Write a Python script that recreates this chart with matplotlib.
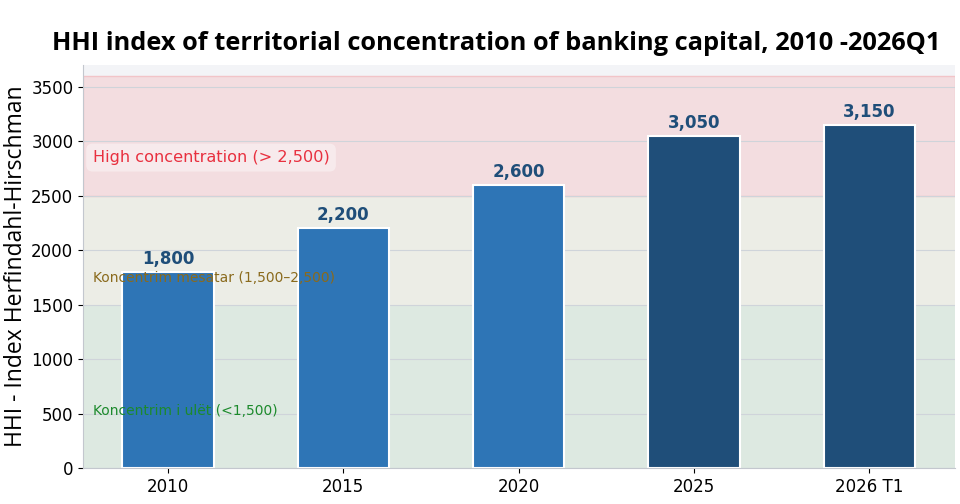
import matplotlib.pyplot as plt
import numpy as np

# data
periods = ["2010", "2015", "2020", "2025", "2026 T1"]
hhi = [1800, 2200, 2600, 3050, 3150]
value_labels = ["1,800", "2,200", "2,600", "3,050", "3,150"]
bar_colors = ["#2E75B6", "#2E75B6", "#2E75B6", "#1F4E79", "#1F4E79"]

fig = plt.figure(figsize=(9.6, 5.04), dpi=100)
ax = fig.add_axes([0.0865, 0.0714, 0.9085, 0.7996])
ax.set_facecolor("#f3f4f7")

# concentration bands
ax.axhspan(0, 1500, color="#dde9e1", zorder=0, lw=0)
ax.axhspan(1500, 2500, color="#ecede6", zorder=0, lw=0)
ax.axhspan(2500, 3600, facecolor="#f3dde0", edgecolor="#f2c4c8", lw=1, zorder=0)

ax.yaxis.grid(True, color="#cfd4da", lw=0.8, zorder=1)
ax.set_axisbelow(True)

x = np.arange(len(periods))
bars = ax.bar(x, hhi, width=0.52, color=bar_colors, edgecolor="white",
              linewidth=1.5, zorder=2)

for b, lab in zip(bars, value_labels):
    ax.annotate(lab, (b.get_x() + b.get_width() / 2, b.get_height()),
                xytext=(0, 3), textcoords="offset points", ha="center",
                va="bottom", fontsize=12, fontweight="bold", color="#1F4E79",
                zorder=4)

ax.text(-0.43, 2850, "High concentration (> 2,500)", color="#e8303f",
        fontsize=11.6, va="center", ha="left", zorder=5,
        bbox=dict(boxstyle="round,pad=0.4", fc="white", ec="none", alpha=0.4))
ax.text(-0.43, 1745, "Koncentrim mesatar (1,500\u20132,500)", color="#8a6a1c",
        fontsize=10, va="center", ha="left", zorder=5)
ax.text(-0.43, 520, "Koncentrim i ul\u00ebt (<1,500)", color="#1c8a2c",
        fontsize=10, va="center", ha="left", zorder=5)

ax.set_xlim(-0.485, 4.49)
ax.set_ylim(0, 3700)
ax.set_xticks(x)
ax.set_xticklabels(periods, fontsize=12)
ax.set_yticks(np.arange(0, 3501, 500))
ax.tick_params(axis="y", labelsize=12)
ax.set_ylabel("HHI - Index Herfindahl-Hirschman", fontsize=16.5,
              family=["Open Sans", "DejaVu Sans"], labelpad=2)

for s in ["top", "right"]:
    ax.spines[s].set_visible(False)
for s in ["left", "bottom"]:
    ax.spines[s].set_color("#c3c7ce")

fig.text(0.517, 0.913, "HHI index of territorial concentration of banking capital, 2010 -2026Q1",
         ha="center", va="center", fontsize=18.3, fontweight="bold",
         family=["Open Sans", "DejaVu Sans"])

fig.savefig("out.png", dpi=100)
